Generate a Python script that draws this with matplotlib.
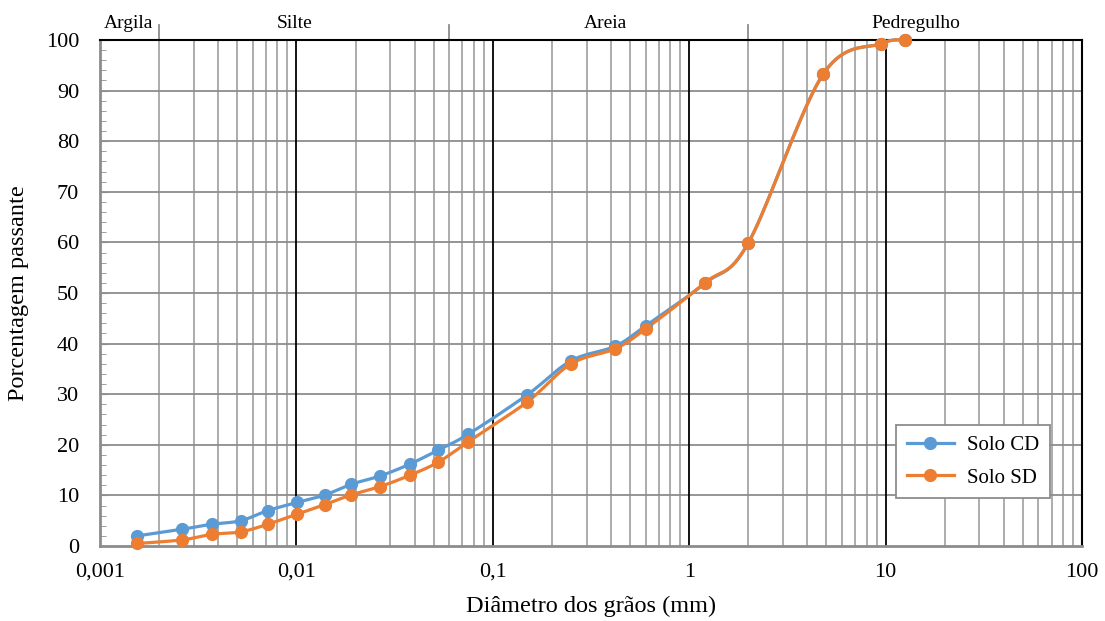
import numpy as np
import matplotlib
matplotlib.use("Agg")
import matplotlib.pyplot as plt
from matplotlib.ticker import FixedLocator, NullFormatter
import matplotlib.transforms as mtrans

plt.rcParams['font.family'] = ['Liberation Serif', 'DejaVu Serif']

# Data
diam_cd = [0.00155, 0.00261, 0.00371, 0.00521, 0.00715, 0.01005, 0.0140, 0.0190, 0.0265,
           0.0379, 0.0529, 0.075, 0.15, 0.25, 0.42, 0.6, 1.2, 2.0, 4.8, 9.5, 12.5]
pass_cd = [2.0, 3.3, 4.3, 5.0, 7.0, 8.6, 10.1, 12.2, 13.8, 16.2, 19.0, 22.1, 29.9, 36.6,
           39.5, 43.5, 51.9, 59.9, 93.2, 99.3, 100.0]
diam_sd = diam_cd
pass_sd = [0.5, 1.2, 2.3, 2.8, 4.3, 6.3, 8.2, 10.1, 11.7, 14.0, 16.6, 20.6, 28.5, 36.0,
           39.0, 42.9, 52.0, 59.9, 93.2, 99.3, 100.0]
series_names = ["Solo CD", "Solo SD"]
colors = ["#5B9BD5", "#ED7D31"]
class_names = ["Argila", "Silte", "Areia", "Pedregulho"]
class_bounds = [0.002, 0.06, 2.0]
class_label_pos = [0.00139, 0.0098, 0.374, 14.2]
x_ticks = [0.001, 0.01, 0.1, 1, 10, 100]
x_tick_labels = ["0,001", "0,01", "0,1", "1", "10", "100"]


def smooth(xs, ys, n=20):
    lx = np.log10(xs)
    y = np.asarray(ys, float)
    sx = lx * 196.3
    sy = y * 5.06
    P = np.column_stack([sx, sy])
    out = []
    tension = 0.5
    for i in range(len(P) - 1):
        p0 = P[i - 1] if i > 0 else P[i]
        p1 = P[i]
        p2 = P[i + 1]
        p3 = P[i + 2] if i + 2 < len(P) else P[i + 1]
        c1 = p1 + (p2 - p0) * tension / 3
        c2 = p2 - (p3 - p1) * tension / 3
        t = np.linspace(0, 1, n, endpoint=(i == len(P) - 2))[:, None]
        b = ((1 - t) ** 3) * p1 + 3 * ((1 - t) ** 2) * t * c1 + 3 * (1 - t) * t ** 2 * c2 + t ** 3 * p2
        out.append(b)
    B = np.vstack(out)
    return 10 ** (B[:, 0] / 196.3), B[:, 1] / 5.06


fig = plt.figure(figsize=(11.05, 6.21), dpi=100)
ax = fig.add_axes([100 / 1105, 1 - 546 / 621, 982 / 1105, 506 / 621])
ax.set_xscale('log')
ax.set_xlim(0.001, 100)
ax.set_ylim(0, 100)

# grid
minors = [m * 10.0 ** e for e in range(-3, 2) for m in range(2, 10)]
for v in minors:
    ax.axvline(v, color='#a6a6a6', lw=1.3, zorder=1)
for v in x_ticks[1:-1]:
    ax.axvline(v, color='black', lw=1.3, zorder=1.5)
for v in range(10, 100, 10):
    ax.axhline(v, color='#8c8c8c', lw=1.3, zorder=1)

for xs, ys, c, name in zip([diam_cd, diam_sd], [pass_cd, pass_sd], colors, series_names):
    sx, sy = smooth(xs, ys)
    ax.plot(sx, sy, color=c, lw=2.3, zorder=3, clip_on=False)
    ax.plot(xs, ys, 'o', color=c, ms=8.5, zorder=4, clip_on=False)
    ax.plot([], [], '-o', color=c, lw=2.3, ms=8.5, label=name)

ax.xaxis.set_major_locator(FixedLocator(x_ticks))
ax.set_xticklabels(x_tick_labels)
ax.xaxis.set_minor_locator(FixedLocator(minors))
ax.xaxis.set_minor_formatter(NullFormatter())
ax.tick_params(axis='x', which='both', length=0, labelsize=16, pad=12)
ax.set_yticks(range(0, 101, 10))
ax.set_yticks(range(0, 101, 2), minor=True)
ax.tick_params(axis='y', which='major', direction='in', length=6, color='#8c8c8c', labelsize=16, pad=15)
ax.tick_params(axis='y', which='minor', direction='in', length=4, color='#8c8c8c')

for s in ['left', 'bottom']:
    ax.spines[s].set_color('#8c8c8c')
    ax.spines[s].set_linewidth(2)
for s in ['top', 'right']:
    ax.spines[s].set_color('black')
    ax.spines[s].set_linewidth(1.5)

ax.set_xlabel("Diâmetro dos grãos (mm)", fontsize=17.5, labelpad=10)
ax.set_ylabel("Porcentagem passante", fontsize=17.5, labelpad=12)

trans = mtrans.blended_transform_factory(ax.transData, ax.transAxes)
for b in class_bounds:
    ax.plot([b, b], [1.0, 1.03], color='#8c8c8c', lw=1.3, transform=trans, clip_on=False)
for name, p in zip(class_names, class_label_pos):
    ax.text(p, 1.015, name, transform=trans, ha='center', va='bottom', fontsize=14)

leg = ax.legend(loc='lower right', bbox_to_anchor=(0.967, 0.095), borderaxespad=0,
                fontsize=15, frameon=True, fancybox=False, edgecolor='#8c8c8c', framealpha=1,
                handlelength=2.3, borderpad=0.5, labelspacing=0.6, handletextpad=0.6)
leg.get_frame().set_linewidth(1.3)

fig.savefig("out.png", dpi=100)
